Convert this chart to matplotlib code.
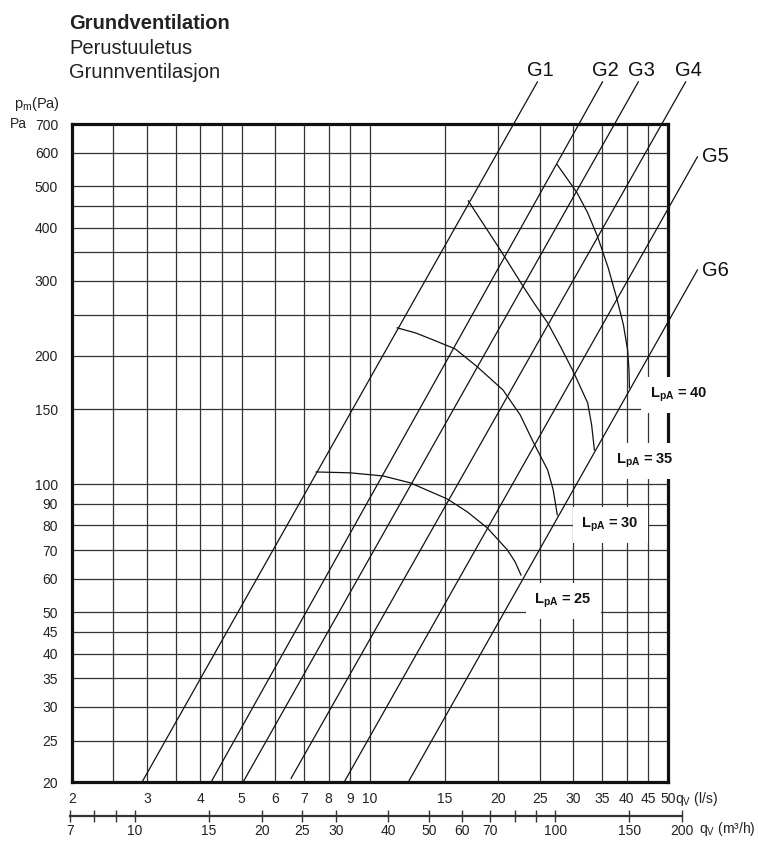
import matplotlib.pyplot as plt
from matplotlib.ticker import FixedLocator, FixedFormatter, NullFormatter

plt.rcParams['font.family'] = ['Liberation Sans', 'DejaVu Sans']
plt.rcParams['mathtext.fontset'] = 'custom'
plt.rcParams['mathtext.rm'] = 'Liberation Sans'
plt.rcParams['mathtext.it'] = 'Liberation Sans:italic'
plt.rcParams['mathtext.bf'] = 'Liberation Sans:bold'

# axes: flow q_v (l/s) against pressure p_m (Pa)
q_ticks = [2, 3, 4, 5, 6, 7, 8, 9, 10, 15, 20, 25, 30, 35, 40, 45, 50]
q_extra_grid = [2.5, 3.5, 4.5]
p_ticks = [20, 25, 30, 35, 40, 45, 50, 60, 70, 80, 90, 100, 150, 200, 300, 400, 500, 600, 700]
p_extra_grid = [250, 350, 450]

# secondary flow scale in m3/h
m3h_ticks = [7, 8, 9, 10, 15, 20, 25, 30, 40, 50, 60, 70, 80, 90, 100, 150, 200]
m3h_labels = ['7', '', '', '10', '15', '20', '25', '30', '40', '50', '60', '70', '', '', '100', '150', '200']

# damper settings G1..G6 (straight lines on log-log)
g_names = ['G1', 'G2', 'G3', 'G4', 'G5', 'G6']
g_q0 = [2.92, 4.24, 5.04, 6.53, 8.70, 12.3]
g_p0 = [20, 20, 20, 20.4, 20, 20]
g_q1 = [24.7, 35.1, 42.6, 55.0, 58.6, 58.6]
g_p1 = [879, 879, 879, 879, 586, 318]

# sound level curves LpA
lpa_levels = [25, 30, 35, 40]
lpa25_q = [7.48, 8.99, 10.74, 12.43, 15.18, 16.91, 18.85, 21.0, 21.9, 22.6]
lpa25_p = [106.8, 106.3, 104.5, 100.7, 92.3, 86.1, 78.9, 70.1, 65.7, 61.2]
lpa30_q = [11.58, 12.77, 14.07, 15.85, 17.85, 20.5, 22.5, 24.2, 26.1, 26.9, 27.5]
lpa30_p = [232.7, 226.5, 218.0, 207.6, 188.5, 166.4, 145.4, 125.0, 108.0, 96.9, 84.7]
lpa35_q = [17.0, 18.5, 20.2, 22.9, 24.4, 26.1, 28.0, 30.0, 32.4, 33.1, 33.6]
lpa35_p = [462.2, 406.0, 354.8, 290.4, 263.5, 239.1, 210.0, 183.5, 155.1, 137.7, 120.3]
lpa40_q = [27.5, 30.6, 32.4, 34.2, 36.2, 38.0, 39.3, 40.2, 40.5, 40.6]
lpa40_p = [561.6, 482.6, 433.3, 380.4, 321.8, 270.6, 236.5, 206.6, 185.4, 168.2]
lpa_label_q = [28.4, 36.6, 44.0, 52.9]
lpa_label_p = [53.2, 80.2, 113.4, 162.0]

W, H = 758, 842
fig = plt.figure(figsize=(W / 100, H / 100), dpi=100)
ax = fig.add_axes([72 / W, 1 - 782 / H, 596 / W, 658 / H])
ax.set_xscale('log')
ax.set_yscale('log')
ax.set_xlim(2, 50)
ax.set_ylim(20, 700)

ax.xaxis.set_major_locator(FixedLocator(q_ticks))
ax.xaxis.set_major_formatter(FixedFormatter([str(v) for v in q_ticks]))
ax.xaxis.set_minor_locator(FixedLocator(q_extra_grid))
ax.xaxis.set_minor_formatter(NullFormatter())
ax.yaxis.set_major_locator(FixedLocator(p_ticks))
ax.yaxis.set_major_formatter(FixedFormatter([str(v) for v in p_ticks]))
ax.yaxis.set_minor_locator(FixedLocator(p_extra_grid))
ax.yaxis.set_minor_formatter(NullFormatter())
ax.tick_params(which='both', length=0, labelsize=10, labelcolor='#222222')
ax.tick_params(axis='x', pad=7)
ax.tick_params(axis='y', pad=10)
ax.grid(which='both', color='#333333', linewidth=0.9)
ax.set_axisbelow(True)
for sp in ax.spines.values():
    sp.set_linewidth(2.3)
    sp.set_color('#111111')

for name, q0, p0, q1, p1 in zip(g_names, g_q0, g_p0, g_q1, g_p1):
    ax.plot([q0, q1], [p0, p1], color='#111111', lw=0.9, clip_on=False, zorder=3)
    if p1 > 800:
        ax.annotate(name, (q1, p1), xytext=(2, 1), textcoords='offset points',
                    ha='center', va='bottom', fontsize=14.5, color='#111111',
                    annotation_clip=False)
    else:
        ax.annotate(name, (q1, p1), xytext=(3, 0), textcoords='offset points',
                    ha='left', va='center', fontsize=14.5, color='#111111',
                    annotation_clip=False)

for qs, ps in [(lpa25_q, lpa25_p), (lpa30_q, lpa30_p), (lpa35_q, lpa35_p), (lpa40_q, lpa40_p)]:
    ax.plot(qs, ps, color='#111111', lw=0.9, zorder=3)

for lvl, lq, lp in zip(lpa_levels, lpa_label_q, lpa_label_p):
    ax.text(lq, lp, r'$\mathbf{L_{pA}}$' + f' = {lvl}', ha='center', va='center',
            fontsize=10.5, fontweight='bold', color='#111111', clip_on=False, zorder=5,
            bbox=dict(boxstyle='square,pad=0.6', fc='white', ec='none'))

ax.annotate(r'q$_\mathrm{V}$ (l/s)', (1, 0), xycoords='axes fraction', xytext=(5, -15),
            textcoords='offset points', ha='left', va='baseline', fontsize=10, color='#222222')

# m3/h scale below
ax2 = fig.add_axes([70 / W, 1 - 816 / H, 612 / W, 0.0005])
ax2.set_xscale('log')
ax2.set_xlim(7, 200)
ax2.set_ylim(0, 1)
ax2.xaxis.set_major_locator(FixedLocator(m3h_ticks))
ax2.xaxis.set_major_formatter(FixedFormatter(m3h_labels))
ax2.xaxis.set_minor_locator(FixedLocator([]))
ax2.set_yticks([])
ax2.tick_params(axis='x', direction='inout', length=8, width=1, pad=2,
                labelsize=10, labelcolor='#222222', color='#333333')
for side in ['top', 'left', 'right']:
    ax2.spines[side].set_visible(False)
ax2.spines['bottom'].set_linewidth(1.6)
ax2.spines['bottom'].set_color('#333333')
ax2.patch.set_visible(False)
ax2.annotate(r'q$_\mathrm{V}$ (m³/h)', (1, 0), xycoords='axes fraction', xytext=(12, -12),
             textcoords='offset points', ha='left', va='baseline', fontsize=10, color='#222222')

fig.text(69 / W, 1 - 29 / H, 'Grundventilation', fontsize=14.5, fontweight='bold', color='#222222')
fig.text(69 / W, 1 - 54 / H, 'Perustuuletus', fontsize=14.5, color='#222222')
fig.text(69 / W, 1 - 78 / H, 'Grunnventilasjon', fontsize=14.5, color='#222222')
fig.text(60 / W, 1 - 108 / H, r'p$_\mathrm{m}$(Pa)', ha='right', fontsize=10.5, color='#222222')
fig.text(10 / W, 1 - 128 / H, 'Pa', ha='left', fontsize=10, color='#222222')

fig.savefig('out.png', dpi=100, facecolor='white')
